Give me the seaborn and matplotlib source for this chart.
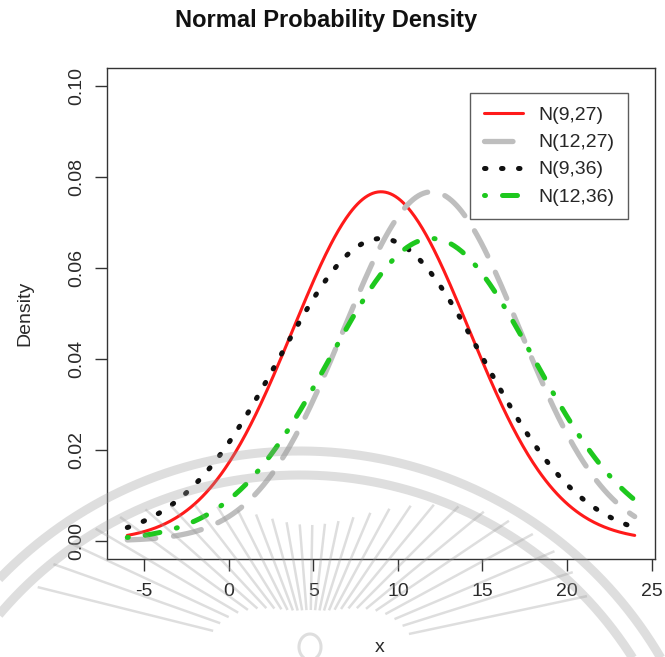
import numpy as np
import pandas as pd
import matplotlib
matplotlib.use("Agg")
import matplotlib.pyplot as plt
import seaborn as sns

# Normal distributions N(mean, variance) shown on the chart
labels = ["N(9,27)", "N(12,27)", "N(9,36)", "N(12,36)"]
means = [9, 12, 9, 12]
variances = [27, 27, 36, 36]
x_range = [-6, 24]

x_ticks = [-5, 0, 5, 10, 15, 20, 25]
y_ticks = [0.00, 0.02, 0.04, 0.06, 0.08, 0.10]
y_tick_labels = ["0.00", "0.02", "0.04", "0.06", "0.08", "0.10"]

colors = ["#ff1a1a", "#bebebe", "#111111", "#1ec81e"]
widths = [2.2, 3.8, 3.6, 3.6]
dash_patterns = [None, (5.4, 3.4), (0.3, 3.1), (0.2, 3.4, 3.0, 3.4)]

sns.set_theme(style="white")
plt.rcParams["font.family"] = ["Liberation Sans", "DejaVu Sans"]

W, H = 665, 657
fig = plt.figure(figsize=(W / 100, H / 100), dpi=100)
fig.patch.set_facecolor("white")

left, right, top, bottom = 107, 655, 68, 559
ax = fig.add_axes([left / W, (H - bottom) / H, (right - left) / W, (bottom - top) / H])

xs = np.linspace(x_range[0], x_range[1], 400)
frames = []
for lab, m, v in zip(labels, means, variances):
    dens = np.exp(-(xs - m) ** 2 / (2 * v)) / np.sqrt(2 * np.pi * v)
    frames.append(pd.DataFrame({"x": xs, "Density": dens, "dist": lab}))
df = pd.concat(frames, ignore_index=True)

for lab, col, lw, dp in zip(labels, colors, widths, dash_patterns):
    sub = df[df["dist"] == lab]
    sns.lineplot(data=sub, x="x", y="Density", ax=ax, color=col,
                 linewidth=lw, label=lab, sort=False, estimator=None)
    line = ax.lines[-1]
    line.set_solid_capstyle("round")
    line.set_dash_capstyle("round")
    if dp is not None:
        line.set_dashes(dp)

ax.set_xlim(-7.2, 25.2)
ax.set_ylim(-0.004, 0.104)
ax.set_xticks(x_ticks)
ax.set_xticklabels([str(t) for t in x_ticks])
ax.set_yticks(y_ticks)
ax.set_yticklabels(y_tick_labels, rotation=90, va="center")

for s in ax.spines.values():
    s.set_color("#333333")
    s.set_linewidth(1.0)
    s.set_visible(True)

ax.tick_params(axis="both", which="major", direction="out", length=8.5,
               width=1.0, color="#333333", labelsize=14, labelcolor="#2a2a2a",
               bottom=True, left=True)
ax.tick_params(axis="x", pad=9)
ax.tick_params(axis="y", pad=7)

ax.set_xlabel("x", fontsize=14, color="#2a2a2a")
ax.set_ylabel("Density", fontsize=14, color="#2a2a2a")
ax.xaxis.label.set_va("center")
ax.yaxis.label.set_va("center")
ax.xaxis.set_label_coords(0.498, (bottom - 648) / (bottom - top))
ax.yaxis.set_label_coords((25 - left) / (right - left), 0.5)

ax.set_title("Normal Probability Density", fontsize=17, fontweight="bold",
             x=(326 - left) / (right - left), y=(bottom - 20) / (bottom - top),
             va="center", color="#111111", pad=0)

leg = ax.legend(loc="upper right", bbox_to_anchor=(628 / W, 1 - 93 / H),
                bbox_transform=fig.transFigure, borderaxespad=0, frameon=True,
                fancybox=False, edgecolor="#333333", fontsize=14,
                handlelength=2.0, handletextpad=0.8, labelspacing=0.49,
                borderpad=0.7)
leg.get_frame().set_linewidth(1.0)

# faint seal-style emblem laid over the lower part of the figure
wax = fig.add_axes([0, 0, 1, 1], zorder=10)
wax.set_xlim(0, W)
wax.set_ylim(H, 0)
wax.axis("off")
wax.patch.set_alpha(0)
mark = dict(color="#9a9a9a", alpha=0.32, solid_capstyle="butt")

cx, cy = 300, 869
t = np.linspace(0, np.pi, 400)
for R in (418, 394):
    wax.plot(cx + R * np.cos(t), cy - R * np.sin(t), lw=6.5, **mark)

sx, sy = 310, 655
for ang in np.arange(12, 169, 5.5):
    a = np.deg2rad(ang)
    c = abs(np.cos(a))
    r_in = 45 + 60 * c ** 3
    r_out = 130 + 160 * c ** 2
    wax.plot([sx + r_in * np.cos(a), sx + r_out * np.cos(a)],
             [sy - r_in * np.sin(a), sy - r_out * np.sin(a)],
             lw=1.8, **mark)
ring = np.linspace(0, 2 * np.pi, 100)
wax.plot(sx + 11 * np.cos(ring), 647 + 13 * np.sin(ring), lw=2.2, **mark)

fig.savefig("out.png", dpi=100)
